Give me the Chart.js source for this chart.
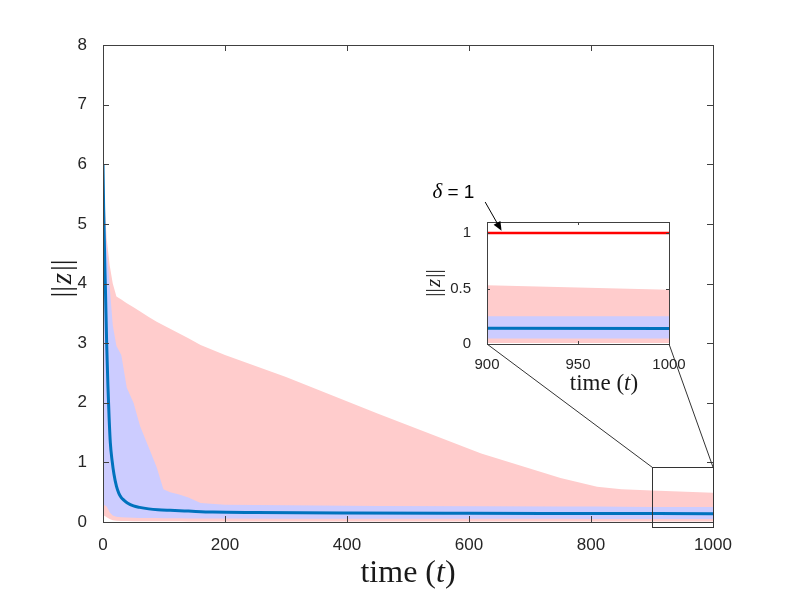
<!DOCTYPE html>
<html>
<head>
<meta charset="utf-8">
<script src="https://cdn.jsdelivr.net/npm/chart.js@4.4.1/dist/chart.umd.min.js"></script>
<style>
  html, body { margin: 0; padding: 0; background: #fff; }
  #wrap { position: relative; width: 789px; height: 592px; }
  #wrap canvas { position: absolute; left: 0; top: 0; }
</style>
</head>
<body>
<div id="wrap">
  <canvas id="mainChart" width="789" height="592"></canvas>
  <canvas id="insetChart" width="789" height="592"></canvas>
</div>
<script>
// band edges share one time grid
const tBand  = [0, 1, 3, 6, 11, 16, 22, 30, 39, 50, 61, 75, 88, 99, 110, 125, 140, 160, 200, 300, 450, 620, 750, 810, 850, 900, 1000];
const pinkHi = [6.2, 5.8, 5.3, 4.75, 4.3, 4.0, 3.78, 3.73, 3.67, 3.6, 3.53, 3.44, 3.36, 3.3, 3.24, 3.16, 3.08, 2.97, 2.8, 2.43, 1.82, 1.15, 0.74, 0.59, 0.55, 0.53, 0.49];
const pinkLo = [0.12, 0.11, 0.1, 0.08, 0.05, 0.03, 0.02, 0.015, 0.015, 0.012, 0.012, 0.012, 0.012, 0.012, 0.012, 0.012, 0.01, 0.01, 0.01, 0.01, 0.01, 0.01, 0.01, 0.01, 0.01, 0.01, 0.01];
const blueHi = [6.0, 5.6, 5.1, 4.6, 3.95, 3.3, 2.95, 2.8, 2.25, 2.0, 1.6, 1.25, 0.92, 0.55, 0.5, 0.46, 0.41, 0.32, 0.29, 0.28, 0.27, 0.265, 0.26, 0.26, 0.255, 0.25, 0.25];
const blueLo = [0.3, 0.29, 0.28, 0.26, 0.16, 0.11, 0.09, 0.08, 0.075, 0.07, 0.068, 0.066, 0.065, 0.064, 0.063, 0.062, 0.06, 0.06, 0.058, 0.056, 0.055, 0.054, 0.053, 0.052, 0.051, 0.05, 0.05];

// mean trajectory
const tMean = [0, 1, 2, 3, 4, 6, 8, 10, 12, 15, 18, 22, 26, 30, 35, 40, 50, 60, 75, 90, 110, 140, 180, 250, 400, 600, 800, 1000];
const zMean = [6.0, 5.3, 4.8, 4.3, 3.9, 3.0, 2.3, 1.75, 1.33, 1.02, 0.8, 0.6, 0.48, 0.41, 0.36, 0.32, 0.27, 0.245, 0.22, 0.205, 0.195, 0.183, 0.168, 0.16, 0.152, 0.147, 0.143, 0.14];

// threshold delta = 1 (inset only)
const deltaT = [900, 1000];
const deltaZ = [1, 1];

// ticks
const mainXTicks = [0, 200, 400, 600, 800, 1000];
const mainYTicks = [0, 1, 2, 3, 4, 5, 6, 7, 8];
const insetXTicks = [900, 950, 1000];
const insetYTicks = [0, 0.5, 1];

// zoomed window drawn on the main axes
const zoomT = [900, 1000];
const zoomZ = [-0.08, 0.92];

const PINK = '#ffcccc', LAVENDER = '#ccccff', MEAN = '#0072bd', AXIS = '#404040', TXT = '#262626';
const SERIF = '"Liberation Serif", "DejaVu Serif", serif';
const SANS = '"Liberation Sans", Arial, sans-serif';

const pts = (xs, ys) => xs.map((x, i) => ({x: x, y: ys[i]}));

function seriesSets(withDelta){
  const none = 'rgba(0,0,0,0)';
  const sets = [
    {data: pts(tMean, zMean), borderColor: MEAN, borderWidth: 3, cubicInterpolationMode: 'monotone', fill: false}
  ];
  if (withDelta) sets.push({data: pts(deltaT, deltaZ), borderColor: '#ff0000', borderWidth: 2.5, fill: false});
  sets.push(
    {data: pts(tBand, blueHi), borderColor: none, borderWidth: 1, fill: '+1', backgroundColor: LAVENDER},
    {data: pts(tBand, blueLo), borderColor: none, borderWidth: 1, fill: false},
    {data: pts(tBand, pinkHi), borderColor: none, borderWidth: 1, fill: '+1', backgroundColor: PINK},
    {data: pts(tBand, pinkLo), borderColor: none, borderWidth: 1, fill: false}
  );
  sets.forEach(s => { s.pointRadius = 0; s.tension = 0; });
  return sets;
}

function drawParts(ctx, parts, x, y, align){
  let w = 0;
  parts.forEach(p => { ctx.font = p[1]; w += ctx.measureText(p[0]).width; });
  let cx = align === 'center' ? x - w / 2 : x;
  ctx.textAlign = 'left';
  parts.forEach(p => { ctx.font = p[1]; ctx.fillText(p[0], cx, y); cx += ctx.measureText(p[0]).width; });
}

function normLabel(size){
  const f = size + 'px ' + SERIF, gap = Math.round(size / 4) + 'px ' + SERIF;
  return [['|', f], ['|', f], [' ', gap], ['z', 'italic ' + f], [' ', gap], ['|', f], ['|', f]];
}

// MATLAB style box with inward ticks
const boxPlugin = {
  id: 'box',
  afterDatasetsDraw(chart, args, opts){
    const {ctx, chartArea: a, scales: {x, y}} = chart;
    const len = opts.len;
    ctx.save();
    ctx.strokeStyle = AXIS;
    ctx.lineWidth = 1;
    ctx.strokeRect(Math.round(a.left) + 0.5, Math.round(a.top) + 0.5, Math.round(a.right - a.left), Math.round(a.bottom - a.top));
    ctx.beginPath();
    x.ticks.forEach(t => {
      const px = Math.round(x.getPixelForValue(t.value)) + 0.5;
      ctx.moveTo(px, a.bottom); ctx.lineTo(px, a.bottom - len);
      ctx.moveTo(px, a.top); ctx.lineTo(px, a.top + len);
    });
    y.ticks.forEach(t => {
      const py = Math.round(y.getPixelForValue(t.value)) + 0.5;
      ctx.moveTo(a.left, py); ctx.lineTo(a.left + len, py);
      ctx.moveTo(a.right, py); ctx.lineTo(a.right - len, py);
    });
    ctx.stroke();
    ctx.restore();
  }
};

function axisScales(xr, yr, xt, yt, size, xh, yw, xpad, ypad){
  const tickFont = {family: SANS, size: size};
  const plain = v => String(v);
  return {
    x: {type: 'linear', min: xr[0], max: xr[1],
        afterBuildTicks: s => { s.ticks = xt.map(v => ({value: v})); },
        afterFit: s => { s.height = xh; },
        grid: {display: false}, border: {display: false},
        ticks: {font: tickFont, color: TXT, padding: xpad, maxRotation: 0, autoSkip: false, callback: plain}},
    y: {type: 'linear', min: yr[0], max: yr[1],
        afterBuildTicks: s => { s.ticks = yt.map(v => ({value: v})); },
        afterFit: s => { s.width = yw; },
        grid: {display: false}, border: {display: false},
        ticks: {font: tickFont, color: TXT, padding: ypad, autoSkip: false, callback: plain}}
  };
}

// main axes
const mainLabels = {
  id: 'mainLabels',
  afterDraw(chart){
    const {ctx, chartArea: a, scales: {x, y}} = chart;
    ctx.save();
    // zoom window
    ctx.strokeStyle = '#333';
    ctx.lineWidth = 1;
    const x0 = Math.round(x.getPixelForValue(zoomT[0])) + 0.5, x1 = Math.round(x.getPixelForValue(zoomT[1])) + 0.5;
    const y0 = Math.round(y.getPixelForValue(zoomZ[1])) + 0.5, y1 = Math.round(y.getPixelForValue(zoomZ[0])) + 0.5;
    ctx.strokeRect(x0, y0, x1 - x0, y1 - y0);
    ctx.fillStyle = '#1a1a1a';
    ctx.textBaseline = 'alphabetic';
    drawParts(ctx, [['time (', '32px ' + SERIF], ['t', 'italic 32px ' + SERIF], [')', '32px ' + SERIF]], (a.left + a.right) / 2, a.bottom + 60, 'center');
    ctx.translate(a.left - 40, (a.top + a.bottom) / 2 - 5);
    ctx.rotate(-Math.PI / 2);
    ctx.textBaseline = 'middle';
    drawParts(ctx, normLabel(29), 0, 0, 'center');
    ctx.restore();
  }
};

const mainChart = new Chart(document.getElementById('mainChart'), {
  type: 'line',
  data: {datasets: seriesSets(false)},
  options: {
    responsive: false, animation: false, events: [],
    layout: {padding: {left: 53, right: 76, top: 45, bottom: 30}},
    scales: axisScales([0, 1000], [0, 8], mainXTicks, mainYTicks, 17, 40, 50, 5, 8),
    plugins: {legend: {display: false}, tooltip: {enabled: false}, box: {len: 6}}
  },
  plugins: [boxPlugin, mainLabels]
});

// inset axes, with connectors back to the zoom window
const insetLabels = {
  id: 'insetLabels',
  beforeDatasetsDraw(chart){
    const {ctx, chartArea: a} = chart;
    ctx.save();
    ctx.fillStyle = '#fff';
    ctx.fillRect(a.left, a.top, a.right - a.left, a.bottom - a.top);
    ctx.restore();
  },
  afterDraw(chart){
    const {ctx, chartArea: a, scales: {x, y}} = chart;
    const mx = mainChart.scales.x, my = mainChart.scales.y;
    ctx.save();
    ctx.strokeStyle = '#333';
    ctx.lineWidth = 1;
    ctx.beginPath();
    ctx.moveTo(a.left, a.bottom); ctx.lineTo(mx.getPixelForValue(zoomT[0]), my.getPixelForValue(zoomZ[1]));
    ctx.moveTo(a.right, a.bottom); ctx.lineTo(mx.getPixelForValue(zoomT[1]), my.getPixelForValue(zoomZ[1]));
    ctx.stroke();

    // arrow to the delta line
    const ax0 = x.getPixelForValue(899), ay0 = y.getPixelForValue(1.28);
    const ax1 = x.getPixelForValue(908), ay1 = y.getPixelForValue(1.02);
    const ang = Math.atan2(ay1 - ay0, ax1 - ax0);
    ctx.strokeStyle = '#000';
    ctx.beginPath();
    ctx.moveTo(ax0, ay0); ctx.lineTo(ax1 - 6 * Math.cos(ang), ay1 - 6 * Math.sin(ang));
    ctx.stroke();
    ctx.fillStyle = '#000';
    ctx.beginPath();
    ctx.moveTo(ax1, ay1);
    ctx.lineTo(ax1 - 10 * Math.cos(ang - 0.4), ay1 - 10 * Math.sin(ang - 0.4));
    ctx.lineTo(ax1 - 10 * Math.cos(ang + 0.4), ay1 - 10 * Math.sin(ang + 0.4));
    ctx.closePath();
    ctx.fill();

    ctx.textBaseline = 'alphabetic';
    drawParts(ctx, [['\u03b4', 'italic 21px ' + SERIF], [' = 1', '19px ' + SANS]], x.getPixelForValue(870), y.getPixelForValue(1.32), 'left');

    ctx.fillStyle = '#1a1a1a';
    drawParts(ctx, [['time (', '23px ' + SERIF], ['t', 'italic 23px ' + SERIF], [')', '23px ' + SERIF]], (a.left + a.right) / 2 + 26, a.bottom + 46, 'center');
    ctx.translate(a.left - 53, (a.top + a.bottom) / 2);
    ctx.rotate(-Math.PI / 2);
    ctx.textBaseline = 'middle';
    drawParts(ctx, normLabel(21), 0, 0, 'center');
    ctx.restore();
  }
};

const insetChart = new Chart(document.getElementById('insetChart'), {
  type: 'line',
  data: {datasets: seriesSets(true)},
  options: {
    responsive: false, animation: false, events: [],
    layout: {padding: {left: 437, right: 120, top: 222, bottom: 218}},
    scales: axisScales([900, 1000], [0, 1.1], insetXTicks, insetYTicks, 15, 30, 50, 4, 8),
    plugins: {legend: {display: false}, tooltip: {enabled: false}, box: {len: 3}}
  },
  plugins: [boxPlugin, insetLabels]
});
</script>
</body>
</html>
